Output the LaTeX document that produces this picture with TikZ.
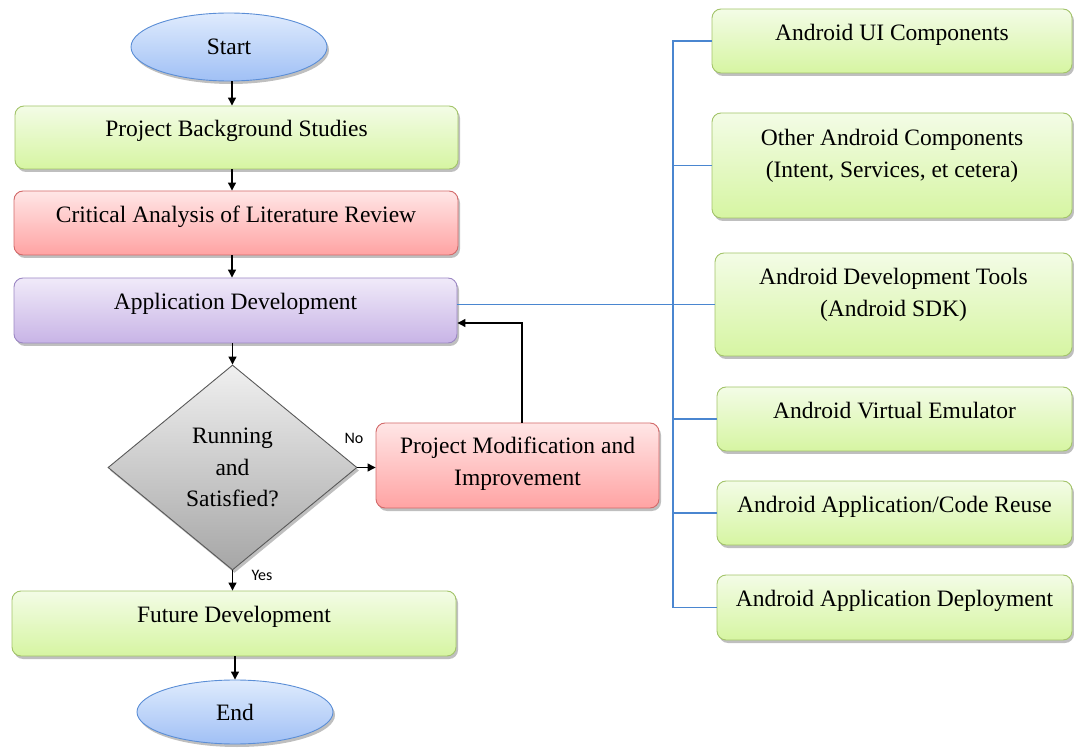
\documentclass[tikz,border=0pt]{standalone}
\usepackage{fontspec}
\setmainfont{Liberation Serif}
\newfontfamily\labfont{Carlito}
\usetikzlibrary{shapes.geometric,arrows.meta,shadows}
\definecolor{gtop}{HTML}{F3FCE6}
\definecolor{gbot}{HTML}{D6F5A2}
\definecolor{gbrd}{HTML}{A3C46A}
\definecolor{rtop}{HTML}{FFE6E6}
\definecolor{rbot}{HTML}{FFA3A3}
\definecolor{rbrd}{HTML}{D26A6A}
\definecolor{ptop}{HTML}{F0EAF9}
\definecolor{pbot}{HTML}{C8B4E6}
\definecolor{pbrd}{HTML}{9C88C4}
\definecolor{btop}{HTML}{DFEBFD}
\definecolor{bbot}{HTML}{A0C0F5}
\definecolor{bbrd}{HTML}{5B8ED6}
\definecolor{dtop}{HTML}{F0F0F0}
\definecolor{dbot}{HTML}{A6A6A6}
\definecolor{dbrd}{HTML}{595959}
\definecolor{tree}{HTML}{4A86D0}
\tikzset{
  x=1pt, y=1pt,
  base/.style={font=\fontsize{23.5}{31.5}\selectfont, align=center, inner sep=0pt,
    drop shadow={shadow xshift=2pt, shadow yshift=-3pt, opacity=0.25, fill=black}},
  box/.style={base, rectangle, rounded corners=9pt, line width=0.9pt},
  greenbox/.style={box, draw=gbrd, top color=gtop, bottom color=gbot},
  redbox/.style={box, draw=rbrd, top color=rtop, bottom color=rbot},
  purplebox/.style={box, draw=pbrd, top color=ptop, bottom color=pbot},
  term/.style={base, ellipse, draw=bbrd, line width=0.9pt, top color=btop, bottom color=bbot,
    minimum width=196pt},
  decision/.style={base, diamond, draw=dbrd, line width=0.9pt, top color=dtop, bottom color=dbot,
    minimum width=249pt, minimum height=205pt},
  flow/.style={line width=1.2pt, -{Triangle[length=8pt,width=8pt]}},
  branch/.style={line width=1.2pt, draw=tree},
  lab/.style={font=\labfont\fontsize{16}{16}\selectfont, inner sep=0pt}
}
\begin{document}
\begin{tikzpicture}
\useasboundingbox (0,0) rectangle (1074,748);
\begin{scope}
\clip (0,0) rectangle (1074,748);
% left column
\node[term, minimum height=68pt] (start) at (229,701) {Start};
\node[greenbox, minimum width=443pt, minimum height=63pt, text depth=18pt] (pbs) at (236.5,610.5) {Project Background Studies};
\node[redbox, minimum width=444pt, minimum height=64pt, text depth=18pt] (cal) at (236,525) {Critical Analysis of Literature Review};
\node[purplebox, minimum width=443pt, minimum height=65pt, text depth=19pt] (app) at (235.5,437.5) {Application Development};
\node[decision] (dec) at (232.5,280.5) {Running\\and\\Satisfied?};
\node[redbox, minimum width=283pt, minimum height=85pt, text depth=9pt] (pmi) at (517.5,282.5) {Project Modification and\\Improvement};
\node[greenbox, minimum width=444pt, minimum height=65pt, text depth=19pt] (fut) at (234,124.5) {Future Development};
\node[term, minimum height=64pt] (end) at (235,36) {End};
% right column
\node[greenbox, minimum width=360pt, minimum height=64pt, text depth=18pt] (b1) at (892,707) {Android UI Components};
\node[greenbox, minimum width=360pt, minimum height=105pt, text depth=24pt] (b2) at (892,582.5) {Other Android Components\\(Intent, Services, et cetera)};
\node[greenbox, minimum width=357pt, minimum height=103pt, text depth=24pt] (b3) at (893.5,443.5) {Android Development Tools\\(Android SDK)};
\node[greenbox, minimum width=355pt, minimum height=64pt, text depth=18pt] (b4) at (894.5,329) {Android Virtual Emulator};
\node[greenbox, minimum width=355pt, minimum height=64pt, text depth=18pt] (b5) at (894.5,235) {Android Application/Code Reuse};
\node[greenbox, minimum width=355pt, minimum height=65pt, text depth=19pt] (b6) at (894.5,140.5) {Android Application Deployment};
\end{scope}
% flow connectors
\coordinate (ax) at (232,0);
\draw[flow] (start.south -| ax) -- (pbs.north -| ax);
\draw[flow] (pbs.south -| ax) -- (cal.north -| ax);
\draw[flow] (cal.south -| ax) -- (app.north -| ax);
\draw[flow] (app.south -| dec.north) -- (dec.north);
\draw[flow] (dec.east) -- (pmi.west |- dec.east);
\draw[flow] (dec.south) -- (fut.north -| dec.south);
\draw[flow] (fut.south -| end.north) -- (end.north);
\coordinate (fb) at (522,425);
\draw[flow] (pmi.north -| fb) |- (app.east |- fb);
% tree connectors
\coordinate (tk) at (673,0);
\draw[branch] (app.east |- b3.west) -- (b3.west);
\draw[branch] (b1.west) -- (b1.west -| tk) -- (b6.west -| tk) -- (b6.west);
\draw[branch] (b2.west) -- (b2.west -| tk);
\draw[branch] (b4.west) -- (b4.west -| tk);
\draw[branch] (b5.west) -- (b5.west -| tk);
% labels
\node[lab] (no) at (354,310) {No};
\node[lab] (yes) at (262,173) {Yes};
\end{tikzpicture}
\end{document}
